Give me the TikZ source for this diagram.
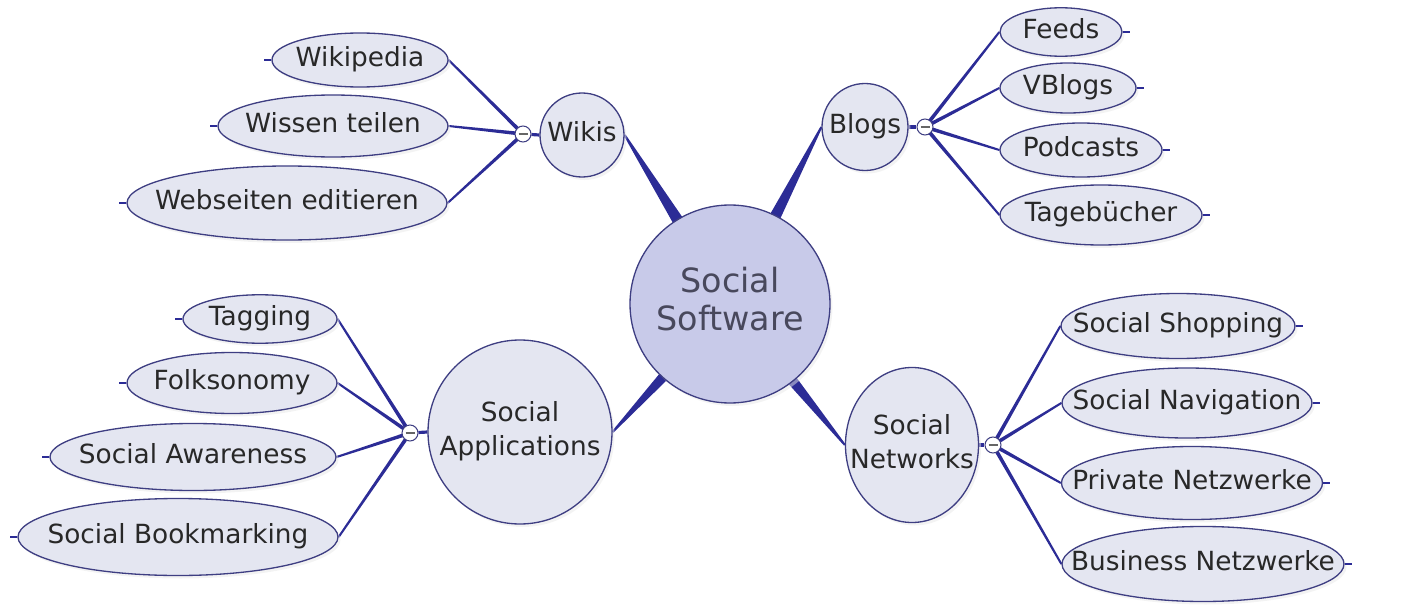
\documentclass[tikz,border=0pt]{standalone}
\usepackage{fontspec}
\setmainfont{DejaVu Sans}
\usetikzlibrary{shapes.geometric,calc,shadows}
\pgfdeclarelayer{bg}
\pgfsetlayers{bg,main}
\definecolor{conn}{RGB}{44,44,150}
\definecolor{rim}{RGB}{62,62,130}
\definecolor{leaffill}{RGB}{228,230,241}
\definecolor{cenfill}{RGB}{200,202,233}
\definecolor{txt}{RGB}{40,40,40}
\definecolor{centxt}{RGB}{72,72,92}
\newcommand\ntext[1]{\makebox[0pt][c]{\begin{tabular}{@{}c@{}}#1\end{tabular}}}
\newcommand\taper[4]{\fill[conn] ($(#1)!#3!90:(#2)$) -- ($(#1)!#3!-90:(#2)$) -- ($(#2)!#4!90:(#1)$) -- ($(#2)!#4!-90:(#1)$) -- cycle;}
\begin{document}
\begin{tikzpicture}[x=0.02cm,y=-0.02cm,
  sz/.style 2 args={minimum width=#1*0.02cm, minimum height=#2*0.02cm},
  bubble/.style={ellipse, draw=rim, line width=0.75pt, fill=leaffill, inner sep=0pt,
    text=txt, font=\fontsize{15pt}{19.5pt}\selectfont,
    drop shadow={shadow xshift=0.05cm, shadow yshift=-0.06cm, fill=black!9}},
  central/.style={bubble, fill=cenfill, text=centxt, font=\fontsize{19pt}{21.5pt}\selectfont},
  collapse/.style={circle, draw=rim, line width=0.6pt, fill=white, inner sep=0pt,
    minimum size=0.32cm,
    path picture={\draw[line width=0.8pt, black!60]
      ([xshift=-0.09cm]path picture bounding box.center) --
      ([xshift=0.09cm]path picture bounding box.center);}},
  link/.style={draw=conn, line width=1.8pt},
  stubline/.style={draw=conn, line width=1.4pt}
]
\useasboundingbox (0,0) rectangle (1418,605);

% central and main topics
\node[central, sz={200}{198}] (cen) at (730,304) {\ntext{Social\\Software}};
\node[bubble, sz={84}{84}] (wk) at (582,135) {\ntext{Wikis}};
\node[bubble, sz={86}{87}] (bl) at (865,127) {\ntext{Blogs}};
\node[bubble, sz={184}{184}] (sa) at (520,432) {\ntext{Social\\Applications}};
\node[bubble, sz={133}{155}] (sn) at (912,445) {\ntext{Social\\Networks}};

% collapse markers
\node[collapse] (cwk) at (523,134) {};
\node[collapse] (cbl) at (925,127) {};
\node[collapse] (csa) at (410,433) {};
\node[collapse] (csn) at (993,445) {};

% Wikis leaves
\node[bubble, sz={176}{54}] (wp) at (360,60) {\ntext{Wikipedia}};
\node[bubble, sz={230}{62}] (wt) at (333,126) {\ntext{Wissen teilen}};
\node[bubble, sz={320}{74}] (we) at (287,203) {\ntext{Webseiten editieren}};

% Blogs leaves
\node[bubble, sz={122}{48}] (fe) at (1061,32) {\ntext{Feeds}};
\node[bubble, sz={136}{50}] (vb) at (1068,88) {\ntext{VBlogs}};
\node[bubble, sz={162}{54}] (pc) at (1081,150) {\ntext{Podcasts}};
\node[bubble, sz={202}{60}] (tb) at (1101,215) {\ntext{Tagebücher}};

% Social Applications leaves
\node[bubble, sz={154}{48}] (tg) at (260,319) {\ntext{Tagging}};
\node[bubble, sz={210}{61}] (fk) at (232,383) {\ntext{Folksonomy}};
\node[bubble, sz={286}{67}] (aw) at (193,457) {\ntext{Social Awareness}};
\node[bubble, sz={320}{77}] (bm) at (178,537) {\ntext{Social Bookmarking}};

% Social Networks leaves
\node[bubble, sz={234}{65}] (ss) at (1178,326) {\ntext{Social Shopping}};
\node[bubble, sz={250}{70}] (nv) at (1187,403) {\ntext{Social Navigation}};
\node[bubble, sz={261}{73}] (pn) at (1192,483) {\ntext{Private Netzwerke}};
\node[bubble, sz={282}{75}] (bn) at (1203,564) {\ntext{Business Netzwerke}};

\begin{pgfonlayer}{bg}
% main tapered branches
\taper{cen.center}{wk.east}{0.2cm}{0.02cm}
\taper{cen.center}{bl.west}{0.2cm}{0.02cm}
\taper{cen.center}{sa.east}{0.2cm}{0.02cm}
\taper{cen.center}{sn.west}{0.2cm}{0.02cm}

% topic to collapse marker
\draw[link] (wk.west) -- (cwk);
\draw[link] (bl.east) -- (cbl);
\draw[link] (sa.west) -- (csa);
\draw[link] (sn.east) -- (csn);

% leaf connectors
\foreach \l in {wp,wt,we}{\taper{cwk}{\l.east}{0.038cm}{0.02cm}}
\foreach \l in {fe,vb,pc,tb}{\taper{cbl}{\l.west}{0.038cm}{0.02cm}}
\foreach \l in {tg,fk,aw,bm}{\taper{csa}{\l.east}{0.038cm}{0.02cm}}
\foreach \l in {ss,nv,pn,bn}{\taper{csn}{\l.west}{0.038cm}{0.02cm}}
\end{pgfonlayer}

% stubs at outer ends
\foreach \l in {wp,wt,we,tg,fk,aw,bm}{\draw[stubline] (\l.west) -- ++(-7,0);}
\foreach \l in {fe,vb,pc,tb,ss,nv,pn,bn}{\draw[stubline] (\l.east) -- ++(7,0);}
\end{tikzpicture}
\end{document}
